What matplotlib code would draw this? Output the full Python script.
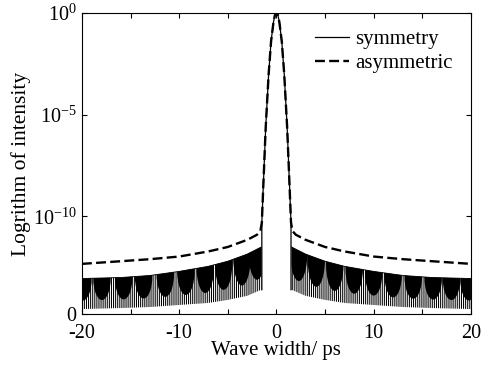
import numpy as np
import matplotlib
matplotlib.use('Agg')
import matplotlib.pyplot as plt
from matplotlib.patches import Ellipse

plt.rcParams['font.family'] = ['Liberation Serif', 'DejaVu Serif']
plt.rcParams['mathtext.fontset'] = 'custom'
plt.rcParams['mathtext.rm'] = 'Liberation Serif'
plt.rcParams['hatch.linewidth'] = 0.75

# 数据均为 log10(强度)
peak_x = [-1.6, -1.5, -1.35, -1.1, -0.8, -0.55, -0.3, -0.15, 0.0,
          0.15, 0.3, 0.55, 0.8, 1.1, 1.35, 1.5, 1.6]
peak_v = [-10.7, -10.3, -8.5, -5.6, -3.0, -1.4, -0.45, -0.1, 0.0,
          -0.1, -0.45, -1.4, -3.0, -5.6, -8.5, -10.3, -10.7]

# 非对称：两侧拖尾
asym_left_x = [-20, -16, -13, -10, -7, -5, -3, -2, -1.65]
asym_left_v = [-12.33, -12.2, -12.1, -11.97, -11.72, -11.5, -11.15, -10.9, -10.72]
asym_right_x = [1.65, 2, 3, 5, 7, 10, 13, 16, 20]
asym_right_v = [-10.72, -10.9, -11.15, -11.5, -11.72, -11.97, -12.1, -12.2, -12.33]

# 对称：快速振荡区域的上下包络
band_left_x = [-20, -16, -13, -10, -7, -5, -3, -1.55]
band_left_up = [-13.05, -13.0, -12.9, -12.7, -12.45, -12.2, -11.85, -11.5]
band_left_lo = [-14.55, -14.5, -14.45, -14.35, -14.25, -14.1, -13.9, -13.6]
band_right_x = [1.55, 3, 5, 7, 10, 13, 16, 20]
band_right_up = [-11.5, -11.85, -12.2, -12.45, -12.7, -12.9, -13.0, -13.05]
band_right_lo = [-13.6, -13.9, -14.1, -14.25, -14.35, -14.45, -14.5, -14.55]

# 振荡形成的暗色波瓣中心
lobe_left = [-19.9, -17.94, -15.71, -13.66, -11.43, -9.31, -7.32, -5.43, -3.55, -2.0]
lobe_right = [2.3, 4.1, 6.0, 8.0, 10.0, 12.0, 14.07, 16.12, 18.0, 19.8]

xticks = [-20, -15, -10, -5, 0, 5, 10, 15, 20]
xticklabels = ['-20', '', '-10', '', '0', '', '10', '', '20']
yticks = [-14.8, -10, -5, 0]
yticklabels = ['0', r'$\mathregular{10^{-10}}$', r'$\mathregular{10^{-5}}$', r'$\mathregular{10^{0}}$']

fig = plt.figure(figsize=(4.82, 3.67), dpi=100)
ax = fig.add_axes([0.170, 0.144, 0.807, 0.821])

# 对称曲线：振荡带
for bx, up, lo, lobes in [(band_left_x, band_left_up, band_left_lo, lobe_left),
                          (band_right_x, band_right_up, band_right_lo, lobe_right)]:
    poly = ax.fill_between(bx, lo, up, facecolor='white', edgecolor='black',
                           hatch='|' * 8, linewidth=0)
    clip = poly.get_paths()[0]
    for c in lobes:
        top = np.interp(c, bx, up)
        depth = 0.72 * (top - np.interp(c, bx, lo))
        e = Ellipse((c, top), 1.8, 2 * depth, facecolor='black', edgecolor='none')
        ax.add_patch(e)
        e.set_clip_path(clip, transform=ax.transData)
    ax.plot(bx, up, color='black', linewidth=0.6)

# 对称曲线：主峰及两侧竖线
sym_x = [peak_x[1]] + peak_x[1:-1] + [peak_x[-2]]
sym_v = [band_left_lo[-1]] + peak_v[1:-1] + [band_right_lo[0]]
ax.plot(sym_x, sym_v, color='black', linewidth=0.9, label='symmetry')

# 非对称曲线
asym_x = asym_left_x + peak_x[1:-1] + asym_right_x
asym_v = asym_left_v + peak_v[1:-1] + asym_right_v
ax.plot(asym_x, asym_v, color='black', linewidth=1.7, linestyle=(0, (4.2, 1.8)),
        label='asymmetric')

ax.set_xlim(-20, 20)
ax.set_ylim(-14.8, 0)
ax.set_xticks(xticks)
ax.set_xticklabels(xticklabels)
ax.set_yticks(yticks)
ax.set_yticklabels(yticklabels)
ax.tick_params(direction='in', length=3.5, width=0.8, top=True, right=True,
               labelsize=14.5)
ax.tick_params(axis='x', pad=7)
ax.tick_params(axis='y', pad=4)
for s in ax.spines.values():
    s.set_linewidth(0.8)

ax.set_xlabel('Wave width/ ps', fontsize=15, labelpad=-1)
ax.set_ylabel('Logrithm of intensity', fontsize=15.5, labelpad=1)

ax.legend(loc='upper right', bbox_to_anchor=(0.985, 0.985), frameon=False,
          fontsize=15, handlelength=1.6, handletextpad=0.3, labelspacing=0.2,
          borderaxespad=0.2)

fig.savefig('out.png', dpi=100)
